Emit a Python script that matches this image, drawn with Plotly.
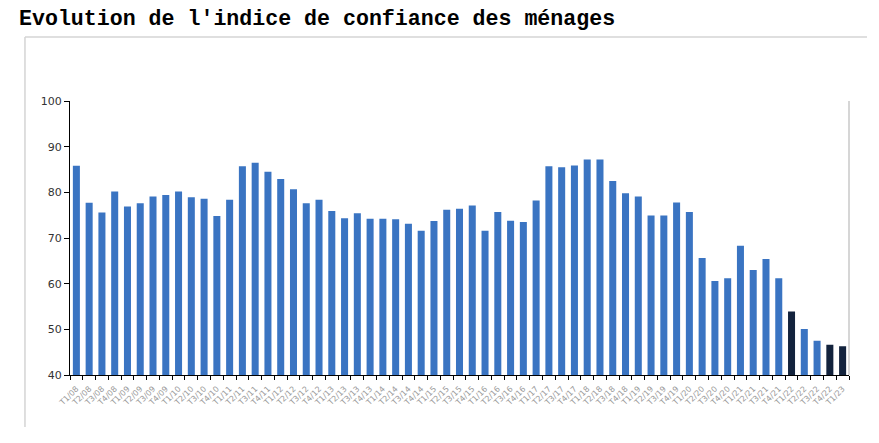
import plotly.graph_objects as go

# Quarterly household confidence index, T1/08 .. T1/23
quarters = [f"T{q}/{y:02d}" for y in range(8, 23) for q in range(1, 5)] + ["T1/23"]
indice = [
    85.8, 77.7, 75.6, 80.2,   # 2008
    76.9, 77.6, 79.1, 79.4,   # 2009
    80.2, 78.9, 78.6, 74.8,   # 2010
    78.4, 85.7, 86.5, 84.5,   # 2011
    82.9, 80.7, 77.6, 78.4,   # 2012
    75.9, 74.3, 75.4, 74.2,   # 2013
    74.2, 74.1, 73.1, 71.6,   # 2014
    73.7, 76.2, 76.4, 77.1,   # 2015
    71.6, 75.7, 73.8, 73.5,   # 2016
    78.2, 85.7, 85.5, 85.9,   # 2017
    87.2, 87.2, 82.5, 79.8,   # 2018
    79.1, 74.9, 74.9, 77.8,   # 2019
    75.7, 65.6, 60.6, 61.2,   # 2020
    68.3, 63.0, 65.4, 61.2,   # 2021
    53.9, 50.1, 47.5, 46.6,   # 2022
    46.3,                     # 2023
]
highlighted = ["T1/22", "T4/22", "T1/23"]

colors = ["#13233d" if q in highlighted else "#3a74c2" for q in quarters]

fig = go.Figure()
fig.add_trace(go.Bar(
    x=quarters, y=indice,
    marker=dict(color=colors, line=dict(width=0)),
    width=0.55,
))

# outer frame (top + left) and right border of the plot area
frame = dict(type="line", xref="paper", yref="paper", line=dict(color="#d4d4d4", width=1.5))
fig.add_shape(**frame, x0=-0.0578, x1=-0.0578, y0=1.2336, y1=-0.19)
fig.add_shape(**frame, x0=-0.0578, x1=1.0231, y0=1.2336, y1=1.2336)
fig.add_shape(type="line", xref="paper", yref="paper", x0=1, x1=1, y0=0, y1=1,
              line=dict(color="#c8c8c8", width=1.5))

# the page body adds an 8px offset, so the figure is 8px smaller each way
fig.update_layout(
    width=871, height=435,
    margin=dict(l=62, r=30, t=93, b=68),
    paper_bgcolor="white", plot_bgcolor="white",
    showlegend=False,
    bargap=0.45,
    title=dict(
        text="<b>Evolution de l'indice de confiance des ménages</b>",
        font=dict(family="Liberation Mono", size=21.6, color="black"),
        xref="container", yref="container",
        x=11 / 435 * 435 / 871, y=1 - 9 / 435, xanchor="left", yanchor="middle",
    ),
)
fig.update_xaxes(
    type="category",
    showline=True, linecolor="black", linewidth=1,
    ticks="outside", tickson="boundaries", ticklen=4, tickcolor="black",
    tickangle=-45, ticklabelstandoff=5,
    tickfont=dict(family="DejaVu Sans", size=8, color="#999999"),
    showgrid=False,
)
fig.update_yaxes(
    range=[40, 100], dtick=10,
    showline=True, linecolor="black", linewidth=1,
    ticks="outside", ticklen=5, tickcolor="black",
    tickfont=dict(family="DejaVu Sans", size=11, color="#333333"),
    showgrid=False, zeroline=False,
)

fig.write_html("out.html")
